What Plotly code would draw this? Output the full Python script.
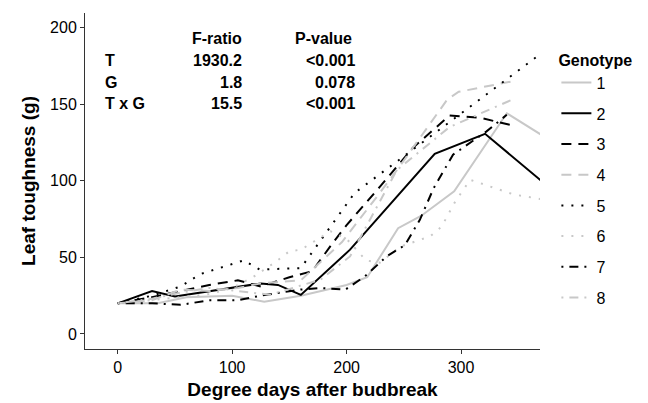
import plotly.graph_objects as go

# Leaf toughness (g) against degree days after budbreak, eight genotypes
genotypes = ["1", "2", "3", "4", "5", "6", "7", "8"]

dd_1 = [0, 35, 60, 100, 128, 160, 200, 218, 245, 265, 294, 340, 370]
lt_1 = [20, 20, 24, 25, 21, 25, 32, 37, 69, 77, 93, 144, 130]

dd_2 = [0, 30, 50, 125, 140, 160, 203, 277, 321, 370]
lt_2 = [20, 28, 24.5, 33, 32, 25.5, 55, 117.5, 130.6, 100]

dd_3 = [0, 30, 55, 80, 105, 125, 150, 170, 188, 200, 229, 258, 290, 317, 345]
lt_3 = [20, 24, 28, 32, 35, 31, 37, 41, 59.5, 71, 96, 121.5, 142.5, 141, 136]

dd_4 = [0, 30, 55, 80, 105, 125, 160, 196, 229, 247, 288, 298, 346]
lt_4 = [20, 22, 29, 28, 30, 33, 35, 60, 92, 110, 153, 158, 165]

dd_5 = [0, 30, 55, 72, 110, 124, 160, 207, 252, 370]
lt_5 = [20, 25, 31, 39, 48, 42, 43, 92, 117, 183]

dd_6 = [0, 30, 55, 80, 100, 118, 138, 150, 160, 186, 200, 217, 229, 247, 273, 283, 295, 308, 346, 370]
lt_6 = [20, 22, 24, 26, 30, 37, 47, 54, 55, 67, 62, 48, 46.5, 57, 63.7, 70, 86.5, 100.6, 91, 88]

dd_7 = [0, 30, 55, 80, 105, 125, 160, 177, 199, 216, 235, 251, 264, 276, 293, 322, 340]
lt_7 = [20, 20, 19, 22, 22, 25, 29, 30, 29, 37.6, 50.6, 58, 74.5, 95, 117, 132, 143]

dd_8 = [0, 30, 55, 80, 105, 133, 177, 203, 244, 290, 345]
lt_8 = [20, 23, 27, 30, 28, 25.6, 35.4, 50.6, 107, 135, 153]

x_data = [dd_1, dd_2, dd_3, dd_4, dd_5, dd_6, dd_7, dd_8]
y_data = [lt_1, lt_2, lt_3, lt_4, lt_5, lt_6, lt_7, lt_8]

x_ticks = [0, 100, 200, 300]
y_ticks = [0, 50, 100, 150, 200]

GREY = "#c8c8c8"
BLACK = "#000000"
colors = [GREY, BLACK, BLACK, GREY, BLACK, GREY, BLACK, GREY]
dashes = ["solid", "solid", "10px,7px", "10px,7px", "2px,8px", "2px,8px",
          "2px,6px,9px,6px", "2px,6px,9px,6px"]

FONT = "Liberation Sans, Arial, sans-serif"

W, H = 648, 403
ML, MR, MT, MB = 85, 108, 13, 54
PW, PH = W - ML - MR, H - MT - MB

fig = go.Figure()
for name, xs, ys, c, d in zip(genotypes, x_data, y_data, colors, dashes):
    fig.add_trace(go.Scatter(
        x=xs, y=ys, mode="lines", name=name, legendgroup=name,
        line=dict(color=c, width=2, dash=d),
    ))

# ANOVA summary table in the upper-left corner
table_rows = ["T", "G", "T x G"]
f_ratios = ["1930.2", "1.8", "15.5"]
p_values = ["<0.001", "0.078", "<0.001"]

bold = dict(family=FONT, size=16, color="black")
ann = []
ann.append(dict(x=244, y=39, text="<b>F-ratio</b>", xanchor="right"))
ann.append(dict(x=293, y=39, text="<b>P-value</b>", xanchor="left"))
for i, (r, f, p) in enumerate(zip(table_rows, f_ratios, p_values)):
    yy = 60.5 + 21.5 * i
    ann.append(dict(x=103, y=yy, text=f"<b>{r}</b>", xanchor="left"))
    ann.append(dict(x=244, y=yy, text=f"<b>{f}</b>", xanchor="right"))
    ann.append(dict(x=357, y=yy, text=f"<b>{p}</b>", xanchor="right"))

for a in ann:
    fig.add_annotation(
        x=(a["x"] - ML) / PW, y=(H - MB - a["y"]) / PH,
        xref="paper", yref="paper",
        text=a["text"], xanchor=a["xanchor"], yanchor="middle",
        showarrow=False, font=bold,
    )

fig.update_layout(
    width=W, height=H,
    margin=dict(l=ML, r=MR, t=MT, b=MB, autoexpand=False),
    paper_bgcolor="white", plot_bgcolor="white",
    font=dict(family=FONT, size=16, color="black"),
    showlegend=True,
    legend=dict(
        title=dict(text="<b>Genotype</b>", font=dict(size=16)),
        x=1.036, xanchor="left", y=0.905, yanchor="top",
        traceorder="grouped", tracegroupgap=6.9,
        font=dict(size=16), itemwidth=30,
    ),
    xaxis=dict(
        range=[-28.6, 369], tickvals=x_ticks, ticks="outside", ticklen=4,
        showline=True, linecolor="#333", linewidth=1, showgrid=False,
        zeroline=False, tickcolor="#333", automargin=False,
        tickfont=dict(size=16),
        title=dict(text="<b>Degree days after budbreak</b>", font=dict(size=19), standoff=7),
    ),
    yaxis=dict(
        range=[-9.8, 209.4], tickvals=y_ticks, ticks="outside", ticklen=4,
        showline=True, linecolor="#333", linewidth=1, showgrid=False,
        zeroline=False, tickcolor="#333", automargin=False,
        tickfont=dict(size=16),
        title=dict(text="<b>Leaf toughness (g)</b>", font=dict(size=19), standoff=9),
    ),
)

fig.write_html("out.html")
